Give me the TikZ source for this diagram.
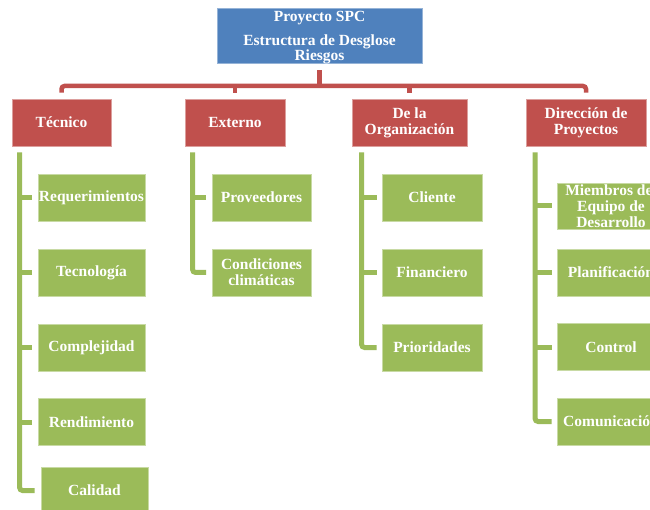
\documentclass[tikz,border=0pt]{standalone}
\usepackage{fontspec}
\setmainfont{Liberation Serif}
\definecolor{cblue}{HTML}{4F81BD}
\definecolor{cred}{HTML}{C0504D}
\definecolor{cgreen}{HTML}{9BBB59}
\begin{document}
\begin{tikzpicture}[x=1pt,y=-1pt,
  lbl/.style={text=white,font=\bfseries\fontsize{15.5}{16}\selectfont,align=center,inner sep=0pt},
  topbox/.style={fill=cblue,draw=cblue!60!white,line width=0.8pt,inner sep=0pt},
  catbox/.style={lbl,fill=cred,draw=cred!55!white,line width=0.8pt,minimum height=47pt},
  itembox/.style={lbl,fill=cgreen,draw=cgreen!55!white,line width=0.8pt,minimum height=47pt},
  redline/.style={draw=cred,line width=4.5pt},
  greenline/.style={draw=cgreen,line width=5pt}]
\useasboundingbox (0,0) rectangle (650,510);
\fill[white] (0,0) rectangle (650,510);
% top
\node[topbox,minimum width=205pt,minimum height=55pt] (top) at (319.5,35.5) {};
\node[lbl,anchor=base] (t1) at (319.5,22) {Proyecto SPC};
\node[lbl,anchor=base] (t2) at (319.5,45.5) {Estructura de Desglose};
\node[lbl,anchor=base] (t3) at (319.5,61) {Riesgos};
% categories
\node[catbox,minimum width=99pt] (tec) at (61.5,122.5) {Técnico};
\node[catbox,minimum width=100pt] (ext) at (235,122.5) {Externo};
\node[catbox,minimum width=115pt] (org) at (409.5,122.5) {De la\\Organización};
\node[catbox,minimum width=120pt] (dir) at (586,122.5) {Dirección de\\Proyectos};
% Tecnico items
\node[itembox,minimum width=107pt] (req) at (91.5,197.5) {Requerimientos};
\node[itembox,minimum width=107pt] (tecn) at (91.5,272.5) {Tecnología};
\node[itembox,minimum width=107pt] (comp) at (91.5,347.5) {Complejidad};
\node[itembox,minimum width=107pt] (rend) at (91.5,422) {Rendimiento};
\node[itembox,minimum width=107pt] (cal) at (94.5,490.5) {Calidad};
% Externo items
\node[itembox,minimum width=99pt] (prov) at (261.5,197.5) {Proveedores};
\node[itembox,minimum width=99pt] (cond) at (261.5,272.5) {Condiciones\\climáticas};
% Org items
\node[itembox,minimum width=100pt] (cli) at (432,197.5) {Cliente};
\node[itembox,minimum width=100pt] (fin) at (432,272.5) {Financiero};
\node[itembox,minimum width=100pt] (pri) at (432,347.5) {Prioridades};
% Dir items
\node[itembox,minimum width=108pt,minimum height=46pt] (mie) at (611,206) {Miembros del\\Equipo de\\Desarrollo};
\node[itembox,minimum width=108pt] (pla) at (611,272.5) {Planificación};
\node[itembox,minimum width=108pt] (con) at (611,347) {Control};
\node[itembox,minimum width=108pt] (com) at (611,421.5) {Comunicación};
% red connectors
\coordinate (bus) at (0,86);
\draw[redline] ([yshift=-7pt]top.south) -- (top.south |- bus);
\draw[redline,rounded corners=3pt] ([yshift=6pt]tec.north) -- (tec.north |- bus) -- (dir.north |- bus) -- ([yshift=6pt]dir.north);
\draw[redline] (ext.north |- bus) -- ([yshift=6pt]ext.north);
\draw[redline] (org.north |- bus) -- ([yshift=6pt]org.north);
% green stems
\coordinate (tecstem) at ([xshift=8pt,yshift=-6pt]tec.south west);
\coordinate (extstem) at ([xshift=8pt,yshift=-6pt]ext.south west);
\coordinate (orgstem) at ([xshift=10pt,yshift=-6pt]org.south west);
\coordinate (dirstem) at ([xshift=9.5pt,yshift=-6pt]dir.south west);
\draw[greenline,rounded corners=3pt] (tecstem) -- (tecstem |- cal.west) -- ([xshift=-6pt]cal.west);
\foreach \n in {req,tecn,comp,rend}{\draw[greenline] (tecstem |- \n.west) -- ([xshift=-5.5pt]\n.west);}
\draw[greenline,rounded corners=3pt] (extstem) -- (extstem |- cond.west) -- ([xshift=-5.5pt]cond.west);
\draw[greenline] (extstem |- prov.west) -- ([xshift=-5.5pt]prov.west);
\draw[greenline,rounded corners=3pt] (orgstem) -- (orgstem |- pri.west) -- ([xshift=-5pt]pri.west);
\foreach \n in {cli,fin}{\draw[greenline] (orgstem |- \n.west) -- ([xshift=-5pt]\n.west);}
\draw[greenline,rounded corners=3pt] (dirstem) -- (dirstem |- com.west) -- ([xshift=-5pt]com.west);
\foreach \n in {mie,pla,con}{\draw[greenline] (dirstem |- \n.west) -- ([xshift=-5pt]\n.west);}
\end{tikzpicture}
\end{document}
